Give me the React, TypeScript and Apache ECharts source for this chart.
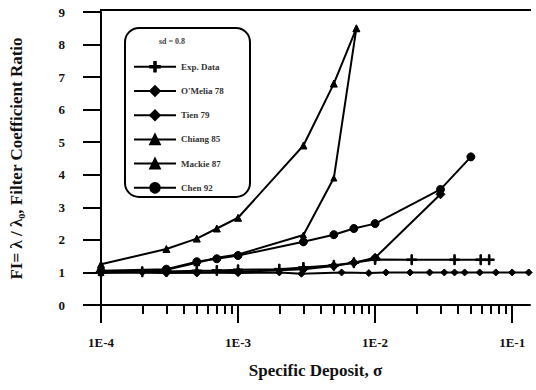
import React, { useEffect, useRef } from "react";
import * as echarts from "echarts";

const xMin = 1e-4;
const xMax = 0.135;

const majorTicks = [-4, -3, -2, -1];
const minorMultipliers = [2, 3, 4, 5, 6, 7, 8, 9];

const expX = [1e-4, 2e-4, 3e-4, 5e-4, 7e-4, 1e-3, 2e-3, 3e-3, 5e-3, 7e-3, 1e-2, 1.85e-2, 3.8e-2, 5.9e-2, 6.8e-2];
const expY = [1.0, 1.02, 1.03, 1.05, 1.06, 1.08, 1.1, 1.15, 1.22, 1.3, 1.4, 1.39, 1.39, 1.39, 1.39];

const omeliaX = [1e-4, 2e-4, 3e-4, 5e-4, 1e-3, 2e-3, 2.9e-3, 5.7e-3, 9e-3, 1.2e-2, 1.8e-2, 2.5e-2, 3.2e-2, 3.8e-2, 4.5e-2, 5.8e-2, 7.6e-2, 1e-1, 1.32e-1];
const omeliaY = [1.0, 1.0, 0.98, 1.0, 0.98, 1.0, 0.96, 1.0, 0.98, 1.0, 1.0, 1.0, 1.0, 1.0, 1.0, 1.0, 1.0, 1.0, 1.0];

const tienX = [1e-4, 3e-4, 5e-4, 1e-3, 3e-3, 5e-3, 7e-3, 1e-2, 3e-2];
const tienY = [1.0, 1.0, 1.0, 1.02, 1.1, 1.2, 1.3, 1.45, 3.4];

const chiangX = [1e-4, 3e-4, 5e-4, 7e-4, 1e-3, 3e-3, 5e-3, 7.3e-3];
const chiangY = [1.25, 1.72, 2.04, 2.35, 2.68, 4.9, 6.8, 8.5];

const mackieX = [1e-4, 3e-4, 5e-4, 7e-4, 1e-3, 3e-3, 5e-3, 7.3e-3];
const mackieY = [1.0, 1.08, 1.3, 1.45, 1.55, 2.15, 3.9, 8.5];

const chenX = [1e-4, 3e-4, 5e-4, 7e-4, 1e-3, 3e-3, 5e-3, 7e-3, 1e-2, 3e-2, 5e-2];
const chenY = [1.05, 1.1, 1.33, 1.42, 1.52, 1.94, 2.16, 2.35, 2.5, 3.55, 4.55];

const seriesNames = ["Exp. Data", "O'Melia 78", "Tien 79", "Chiang 85", "Mackie 87", "Chen 92"];

const FONT = "Liberation Serif";
const PLUS = "path://M-0.8,-5L0.8,-5L0.8,-0.8L5,-0.8L5,0.8L0.8,0.8L0.8,5L-0.8,5L-0.8,0.8L-5,0.8L-5,-0.8L-0.8,-0.8Z";

const zip = (xs: number[], ys: number[]) => xs.map((x, i) => [x, ys[i]]);

export default function App() {
  const ref = useRef<HTMLDivElement>(null);
  useEffect(() => {
    document.body.style.margin = "0";
    if (!ref.current) return;
    const chart = echarts.init(ref.current, null, { renderer: "svg" });
    const logMin = Math.log10(xMin);
    const logMax = Math.log10(xMax);
    const minorTicks: number[] = [];
    for (const d of [-4, -3, -2, -1]) {
      for (const m of minorMultipliers) {
        const v = d + Math.log10(m);
        if (v <= logMax) minorTicks.push(v);
      }
    }
    const lineStyle = { color: "#000", width: 2 };
    const mk = (name: string, data: number[][], symbol: string, size: any) => ({
      name,
      type: "line",
      xAxisIndex: 0,
      data,
      symbol,
      symbolSize: size,
      showSymbol: true,
      lineStyle,
      itemStyle: { color: "#000", borderColor: "#000", borderWidth: 1 },
    });
    chart.setOption({
      animation: false,
      backgroundColor: "#fff",
      textStyle: { fontFamily: FONT },
      grid: { left: 101, right: 6, top: 12, bottom: 85, containLabel: false },
      legend: {
        orient: "vertical",
        left: 128,
        top: 56,
        itemWidth: 42,
        itemHeight: 12,
        itemGap: 12.6,
        data: seriesNames,
        z: 10,
        textStyle: { fontFamily: FONT, fontSize: 9, fontWeight: "bold", color: "#333" },
      },
      xAxis: [
        {
          type: "log",
          logBase: 10,
          min: xMin,
          max: xMax,
          position: "bottom",
          axisLine: { lineStyle: { color: "#000", width: 2 } },
          axisTick: { show: false },
          axisLabel: { show: false },
          splitLine: { show: false },
        },
        {
          type: "value",
          min: logMin,
          max: logMax,
          position: "bottom",
          axisLine: { show: false },
          axisTick: { show: true, customValues: majorTicks, length: 18, lineStyle: { color: "#000", width: 2 } },
          axisLabel: {
            customValues: majorTicks,
            formatter: (v: number) => `1E${Math.round(v)}`,
            margin: 31,
            fontFamily: FONT,
            fontSize: 13,
            fontWeight: "bold",
            color: "#111",
          },
          splitLine: { show: false },
          name: "Specific Deposit, σ",
          nameLocation: "middle",
          nameGap: 57,
          nameTextStyle: { fontFamily: FONT, fontSize: 17, fontWeight: "bold", color: "#111" },
        },
        {
          type: "value",
          min: logMin,
          max: logMax,
          position: "bottom",
          axisLine: { show: false },
          axisTick: { show: true, customValues: minorTicks, length: 9, lineStyle: { color: "#000", width: 2 } },
          axisLabel: { show: false },
          splitLine: { show: false },
        },
      ],
      yAxis: {
        type: "value",
        min: 0,
        max: 9,
        interval: 1,
        axisLine: { show: true, lineStyle: { color: "#000", width: 2 } },
        axisTick: { show: true, length: 18, lineStyle: { color: "#000", width: 2 } },
        axisLabel: { margin: 36, fontFamily: FONT, fontSize: 13, fontWeight: "bold", color: "#111" },
        splitLine: { show: false },
        name: "FI= λ / λ₀, Filter Coefficient Ratio",
        nameLocation: "middle",
        nameGap: 76,
        nameTextStyle: { fontFamily: FONT, fontSize: 17, fontWeight: "bold", color: "#111" },
      },
      graphic: [
        {
          type: "line",
          shape: { x1: 100, y1: 10, x2: 531, y2: 10 },
          style: { stroke: "#000", lineWidth: 2 },
        },
        {
          type: "rect",
          shape: { x: 125, y: 28, width: 125, height: 169, r: 14 },
          style: { fill: "#fff", stroke: "#000", lineWidth: 2 },
          z: 3,
        },
        {
          type: "text",
          x: 172,
          y: 41,
          z: 5,
          style: {
            text: "sd = 0.8",
            fontFamily: FONT,
            fontSize: 8,
            fontWeight: "bold",
            fill: "#444",
            align: "center",
            verticalAlign: "middle",
          },
        },
      ],
      series: [
        mk(seriesNames[0], zip(expX, expY), PLUS, 10),
        mk(seriesNames[1], zip(omeliaX, omeliaY), "diamond", 7),
        mk(seriesNames[2], zip(tienX, tienY), "diamond", 9),
        mk(seriesNames[3], zip(chiangX, chiangY), "triangle", 7),
        mk(seriesNames[4], zip(mackieX, mackieY), "triangle", 6),
        mk(seriesNames[5], zip(chenX, chenY), "circle", 8),
      ],
    });
    return () => chart.dispose();
  }, []);
  return <div ref={ref} style={{ width: 536, height: 390 }} />;
}
